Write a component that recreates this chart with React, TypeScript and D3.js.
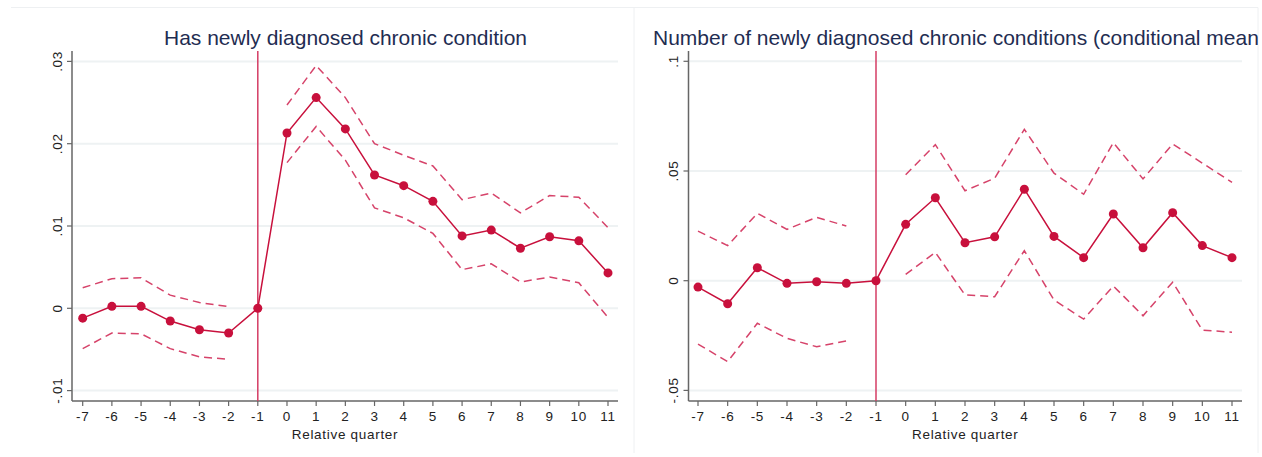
import React from "react";
import * as d3 from "d3";

const quarters = [-7, -6, -5, -4, -3, -2, -1, 0, 1, 2, 3, 4, 5, 6, 7, 8, 9, 10, 11];

const leftTitle = "Has newly diagnosed chronic condition";
const rightTitle = "Number of newly diagnosed chronic conditions (conditional mean)";
const xLabel = "Relative quarter";

const leftEst = [-0.0012, 0.00024, 0.00024, -0.00155, -0.0026, -0.003, 0, 0.0213, 0.0256, 0.0218, 0.0162, 0.0149, 0.013, 0.0088, 0.0095, 0.0073, 0.0087, 0.0082, 0.0043];
const leftUpper = [0.0025, 0.0036, 0.0037, 0.0016, 0.0007, 0.0002, null, 0.0247, 0.0295, 0.0256, 0.02, 0.0186, 0.0173, 0.0132, 0.014, 0.0116, 0.0137, 0.0135, 0.0098];
const leftLower = [-0.0049, -0.003, -0.0031, -0.0049, -0.0059, -0.0062, null, 0.0177, 0.0221, 0.018, 0.0122, 0.011, 0.0091, 0.0047, 0.0054, 0.0032, 0.0038, 0.0031, -0.0011];
const leftTicks = [-0.01, 0, 0.01, 0.02, 0.03];
const leftTickLabels = ["-.01", "0", ".01", ".02", ".03"];

const rightEst = [-0.0029, -0.0105, 0.0059, -0.0012, -0.0005, -0.0012, 0, 0.0257, 0.0378, 0.0173, 0.02, 0.0417, 0.0202, 0.0105, 0.0304, 0.015, 0.031, 0.016, 0.0105];
const rightUpper = [0.0226, 0.016, 0.0307, 0.0234, 0.0289, 0.0249, null, 0.0483, 0.062, 0.041, 0.0467, 0.069, 0.049, 0.0394, 0.0629, 0.0464, 0.0623, 0.0536, 0.0448];
const rightLower = [-0.0289, -0.0369, -0.0194, -0.0263, -0.0301, -0.0275, null, 0.0029, 0.0129, -0.0065, -0.0073, 0.0137, -0.0088, -0.0175, -0.0024, -0.016, -0.0007, -0.0225, -0.0235];
const rightTicks = [-0.05, 0, 0.05, 0.1];
const rightTickLabels = ["-.05", "0", ".05", ".1"];

const MAIN = "#c8103c";
const CI = "#d6436a";
const VLINE = "#d43c64";
const AXIS = "#666666";
const GRID = "#eef2f3";
const TITLE = "#1f2d52";
const FONT = "'Liberation Sans', Arial, Helvetica, sans-serif";
const TICK_FS = 13.5;
const TICK_LS = 0.7;

type PanelProps = {
  id: string;
  title: string;
  titleX: number;
  titleAnchor: string;
  est: number[];
  upper: (number | null)[];
  lower: (number | null)[];
  ticks: number[];
  tickLabels: string[];
  yDomain: [number, number];
  yRange: [number, number];
  xRange: [number, number];
  axisX: number;
  plotRight: number;
  frameLeft: number;
  frameRight: number;
};

function Panel(p: PanelProps) {
  const x = d3.scaleLinear().domain([-7, 11]).range(p.xRange);
  const y = d3.scaleLinear().domain(p.yDomain).range(p.yRange);
  const top = 51;
  const bottom = 401;
  const line = d3
    .line<number | null>()
    .defined((d) => d !== null)
    .x((_, i) => x(quarters[i]))
    .y((d) => y(d as number));
  const mainPath = line(p.est) || "";
  const upPath = line(p.upper) || "";
  const loPath = line(p.lower) || "";
  const centerX = (p.axisX + p.plotRight) / 2;
  return (
    <g>
      <defs>
        <clipPath id={p.id + "clip"}>
          <rect x={p.frameLeft} y={0} width={p.frameRight - p.frameLeft} height={457} />
        </clipPath>
      </defs>
      {/* frame */}
      <line x1={p.frameLeft} x2={p.frameRight} y1={7.5} y2={7.5} stroke="#eef0f2" strokeWidth={1} />
      <line x1={p.frameRight} x2={p.frameRight} y1={7.5} y2={453} stroke="#eef0f2" strokeWidth={1} />
      {/* grid */}
      {p.ticks.map((t) => (
        <line key={"g" + t} x1={p.axisX + 1} x2={p.plotRight} y1={y(t)} y2={y(t)} stroke={GRID} strokeWidth={2} />
      ))}
      {/* title */}
      <g clipPath={`url(#${p.id}clip)`}>
        <text x={p.titleX} y={45} textAnchor={p.titleAnchor} fontFamily={FONT} fontSize={21} fill={TITLE}>
          {p.title}
        </text>
      </g>
      {/* y axis */}
      <line x1={p.axisX} x2={p.axisX} y1={top} y2={bottom} stroke={AXIS} strokeWidth={1.5} />
      {p.ticks.map((t, i) => (
        <g key={"yt" + t}>
          <line x1={p.axisX - 5} x2={p.axisX} y1={y(t)} y2={y(t)} stroke={AXIS} strokeWidth={1.2} />
          <text
            transform={`translate(${p.axisX - 10.5},${y(t)}) rotate(-90)`}
            textAnchor="middle"
            fontFamily={FONT}
            fontSize={TICK_FS}
            letterSpacing={TICK_LS}
            fill="#222"
          >
            {p.tickLabels[i]}
          </text>
        </g>
      ))}
      {/* x axis */}
      <line x1={p.axisX} x2={p.plotRight} y1={bottom} y2={bottom} stroke={AXIS} strokeWidth={1.5} />
      {quarters.map((q) => (
        <g key={"xt" + q}>
          <line x1={x(q)} x2={x(q)} y1={bottom} y2={bottom + 5} stroke={AXIS} strokeWidth={1.2} />
          <text x={x(q)} y={421} textAnchor="middle" fontFamily={FONT} fontSize={TICK_FS} letterSpacing={TICK_LS} fill="#222">
            {q}
          </text>
        </g>
      ))}
      <text x={centerX} y={439} textAnchor="middle" fontFamily={FONT} fontSize={TICK_FS} letterSpacing={TICK_LS} fill="#222">
        {xLabel}
      </text>
      {/* reference line */}
      <line x1={x(-1)} x2={x(-1)} y1={top} y2={bottom} stroke={VLINE} strokeWidth={1.5} />
      {/* CI */}
      <path d={upPath} fill="none" stroke={CI} strokeWidth={1.5} strokeDasharray="8,5" />
      <path d={loPath} fill="none" stroke={CI} strokeWidth={1.5} strokeDasharray="8,5" />
      {/* estimates */}
      <path d={mainPath} fill="none" stroke={MAIN} strokeWidth={1.5} />
      {p.est.map((v, i) => (
        <circle key={"c" + i} cx={x(quarters[i])} cy={y(v)} r={4.5} fill={MAIN} />
      ))}
    </g>
  );
}

export default function App() {
  return (
    <svg
      width={1262}
      height={457}
      style={{ position: "absolute", left: 0, top: 0, background: "#ffffff" }}
    >
      <rect x={0} y={0} width={1262} height={457} fill="#ffffff" />
      <Panel
        id="left"
        title={leftTitle}
        titleX={345.5}
        titleAnchor="middle"
        est={leftEst}
        upper={leftUpper}
        lower={leftLower}
        ticks={leftTicks}
        tickLabels={leftTickLabels}
        yDomain={[-0.01, 0.03]}
        yRange={[390.6, 61.4]}
        xRange={[82.7, 608]}
        axisX={72}
        plotRight={618}
        frameLeft={11}
        frameRight={634}
      />
      <Panel
        id="right"
        title={rightTitle}
        titleX={653}
        titleAnchor="start"
        est={rightEst}
        upper={rightUpper}
        lower={rightLower}
        ticks={rightTicks}
        tickLabels={rightTickLabels}
        yDomain={[-0.05, 0.1]}
        yRange={[390.4, 61.3]}
        xRange={[698, 1232]}
        axisX={688.5}
        plotRight={1242}
        frameLeft={634}
        frameRight={1258}
      />
    </svg>
  );
}
